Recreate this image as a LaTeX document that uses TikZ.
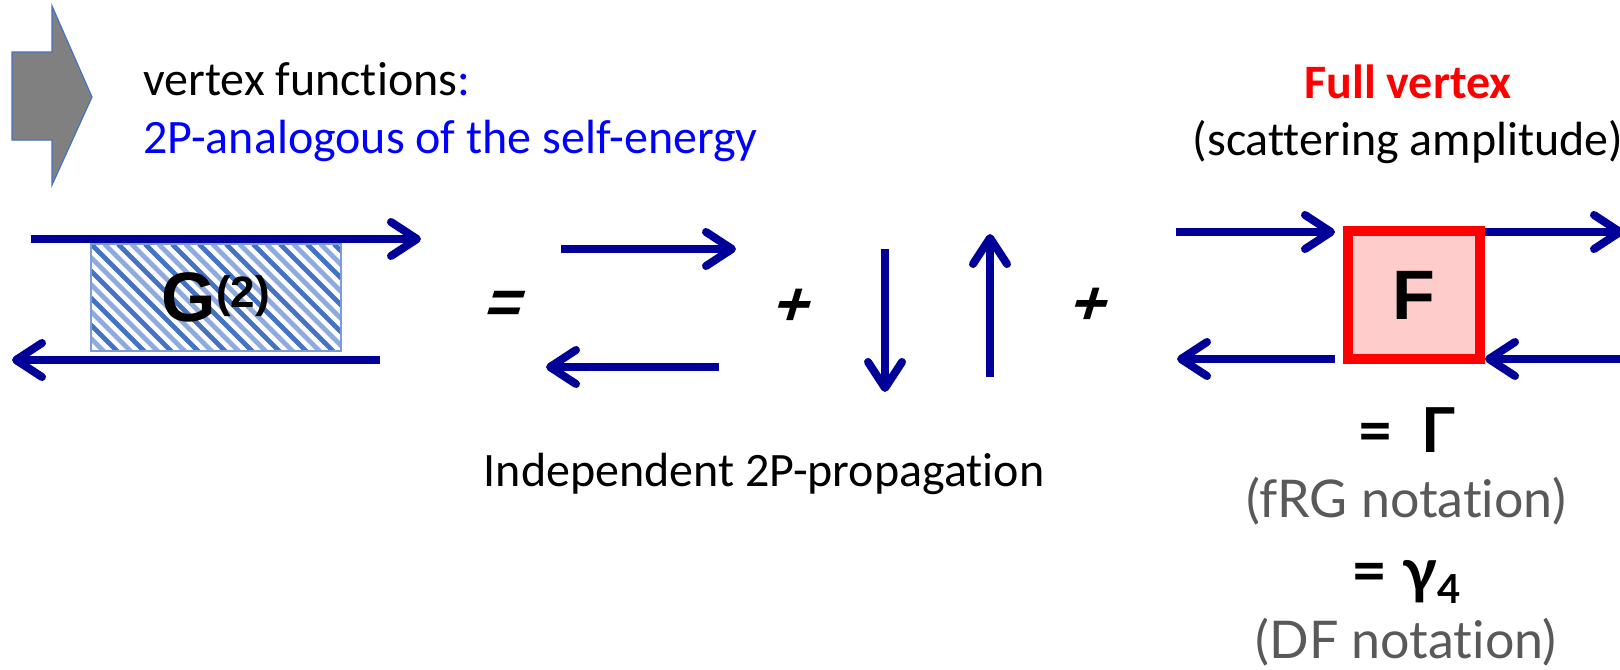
\documentclass[tikz,border=0pt]{standalone}
\usepackage{fontspec}
\setmainfont{Carlito}[Ligatures=NoCommon]
\newfontfamily\arialfont{Liberation Sans}
\newfontfamily\slantfont{Liberation Sans}[FakeSlant=0.3]
\newfontfamily\gillfont{Lato}[Ligatures=NoCommon]
\usetikzlibrary{positioning,arrows.meta}
\definecolor{vtxNavy}{RGB}{0,0,153}
\definecolor{vtxHatchDark}{RGB}{68,114,196}
\definecolor{vtxHatchLight}{RGB}{143,170,220}
\definecolor{vtxBlue}{RGB}{0,0,255}
\definecolor{vtxRed}{RGB}{255,0,0}
\definecolor{vtxPink}{RGB}{255,204,204}
\definecolor{vtxGray}{RGB}{89,89,89}
\definecolor{vtxBlock}{RGB}{128,128,128}

\begin{document}
\begin{tikzpicture}[x=0.5pt, y=-0.5pt,
    slidetext/.style={inner sep=0pt, font=\fontsize{24}{28}\selectfont},
    notetext/.style={inner sep=0pt, text=vtxGray, font=\gillfont\fontsize{26}{30}\selectfont},
    eqtext/.style={inner sep=0pt, font=\gillfont\bfseries\fontsize{31}{36}\selectfont},
    opsign/.style={inner sep=0pt, font=\slantfont\bfseries\fontsize{31}{31}\selectfont},
    hatchbox/.style={draw=vtxHatchDark!70, line width=0.6pt, minimum width=125pt,
      minimum height=53.5pt, inner sep=0pt, font=\arialfont\bfseries\fontsize{35}{40}\selectfont,
      path picture={
        \foreach \k in {-8,-6,...,20}
          \draw[vtxHatchDark, line width=2.4pt] ([xshift=\k*6.75pt]path picture bounding box.north west) -- ++(60pt,-60pt);
        \foreach \k in {-9,-7,...,19}
          \draw[vtxHatchLight, line width=2.4pt] ([xshift=\k*6.75pt]path picture bounding box.north west) -- ++(60pt,-60pt);
      }},
    vertexbox/.style={draw=vtxRed, fill=vtxPink, line width=5pt, minimum width=66pt,
      minimum height=64pt, inner sep=0pt, font=\arialfont\bfseries\fontsize{35}{40}\selectfont},
    prop/.style={line width=4pt, draw=vtxNavy, -{Straight Barb[length=13pt,width=17pt,round]}}
  ]
    \useasboundingbox (0,0) rectangle (1620,669);

    \filldraw[fill=vtxBlock, draw=vtxHatchDark, line width=0.6pt]
      (12,52) -- (52,52) -- (52,6) -- (92,97) -- (52,185) -- (52,140) -- (12,140) -- cycle;
    \node[slidetext, anchor=base west] (title) at (143,95) {vertex functions{\color{vtxBlue}:}};
    \node[slidetext, anchor=base west, text=vtxBlue] (subtitle) at (143,153) {2P-analogous of the self-energy};

    \node[hatchbox] (g2) at (216,297.5) {G\raisebox{7pt}{\fontsize{22}{22}\selectfont(2)}};
    \coordinate (g2in) at (31,239);
    \coordinate (g2out) at (421,239);
    \coordinate (g2back) at (380,360);
    \coordinate (g2end) at (12,360);
    \draw[prop] (g2in) -- (g2out);
    \draw[prop] (g2back) -- (g2end);

    \node[opsign] (eq) at (501,307) {=};
    \coordinate (pa) at (561,249);
    \coordinate (pb) at (736,249);
    \coordinate (pc) at (719,367);
    \coordinate (pd) at (546,367);
    \draw[prop] (pa) -- (pb);
    \draw[prop] (pc) -- (pd);
    \node[opsign] (plusa) at (789,307) {+};
    \coordinate (ha) at (885,249);
    \coordinate (hb) at (885,392);
    \coordinate (hc) at (990,377);
    \coordinate (hd) at (990,234);
    \draw[prop] (ha) -- (hb);
    \draw[prop] (hc) -- (hd);
    \node[opsign] (plusb) at (1086,306) {+};
    \node[slidetext, anchor=base] (indep) at (764,486) {Independent 2P-propagation};

    \node[slidetext, anchor=base, text=vtxRed, font=\bfseries\fontsize{24}{28}\selectfont] (full) at (1408,98) {Full vertex};
    \node[slidetext, anchor=base] (scat) at (1408,155) {(scattering amplitude)};
    \node[vertexbox] (F) at (1414,295) {\raisebox{-3.5pt}{F}};
    \coordinate (fin) at (1176,232);
    \coordinate (fout) at (1624,232);
    \coordinate (fback) at (1177,359);
    \coordinate (fret) at (1624,359);
    \draw[prop, shorten >=4pt] (fin) -- (fin -| F.west);
    \draw[prop] (F.east |- fout) -- (fout);
    \draw[prop, shorten <=4pt] (F.west |- fback) -- (fback);
    \draw[prop] (fret) -- (fret -| F.east);

    \node[eqtext, anchor=base] (gamma) at (1407,452) {=\hspace{14pt}Γ};
    \node[notetext, anchor=base] (frg) at (1406,517) {(fRG notation)};
    \node[eqtext, anchor=base] (gamma4) at (1406,592) {= γ\raisebox{-5.5pt}{\fontsize{20}{20}\selectfont 4}};
    \node[notetext, anchor=base] (df) at (1406,658) {(DF notation)};
  \end{tikzpicture}
\end{document}
